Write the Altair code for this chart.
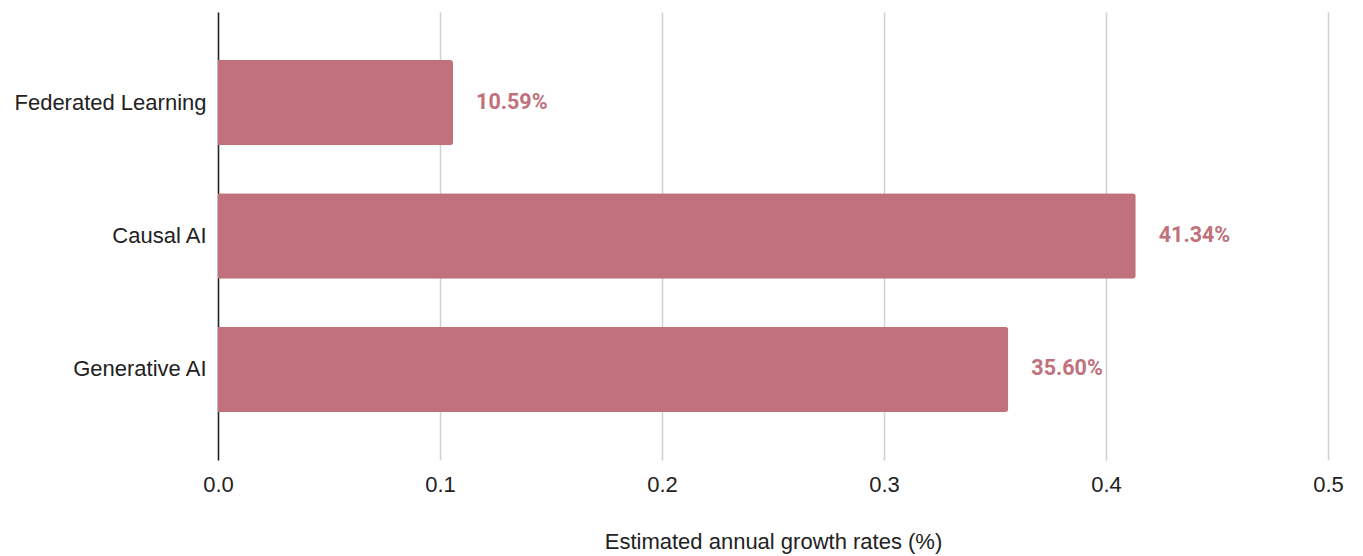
import altair as alt
import pandas as pd

categories = ["Federated Learning", "Causal AI", "Generative AI"]
values = [0.1059, 0.4134, 0.3560]
labels = ["10.59%", "41.34%", "35.60%"]

df = pd.DataFrame({"cat": categories, "val": values, "lab": labels})

bar_color = "#c0717c"

y_enc = alt.Y("cat:N", sort=categories, title=None,
              scale=alt.Scale(paddingInner=0.36, paddingOuter=0.36))

x_enc = alt.X("val:Q", title="Estimated annual growth rates (%)",
              scale=alt.Scale(domain=[0, 0.5], nice=False),
              axis=alt.Axis(values=[0, 0.1, 0.2, 0.3, 0.4, 0.5], format=".1f"))

bars = alt.Chart(df).mark_bar(color=bar_color, cornerRadiusTopRight=3, cornerRadiusBottomRight=3).encode(
    x=x_enc, y=y_enc)

text = alt.Chart(df).mark_text(align="left", baseline="middle", dx=23, font="Roboto",
                               fontSize=21.5, fontWeight="bold", color=bar_color).encode(
    x=x_enc, y=y_enc, text="lab:N")

chart = alt.layer(bars, text).properties(
    width=1110, height=448,
    background="white",
    autosize=alt.AutoSizeParams(type="none"),
    padding={"left": 218, "top": 12, "right": 35, "bottom": 96},
).configure_view(
    strokeWidth=0
).configure_axis(
    ticks=False, domain=False, labelColor="#222222", labelFont="Liberation Sans",
    titleFont="Liberation Sans", titleColor="#222222", titleFontWeight="normal"
).configure_axisX(
    labelFontSize=22, labelPadding=14, labelFlush=False,
    grid=True, gridColor="#d0d0d0", gridWidth=1.5,
    titleFontSize=22, titlePadding=36
).configure_axisY(
    labelFontSize=22, labelPadding=12, labelLimit=400, grid=False,
    domain=True, domainColor="#222222", domainWidth=1.5
)

chart.save("out.html", embed_options={"renderer": "svg", "actions": False})
